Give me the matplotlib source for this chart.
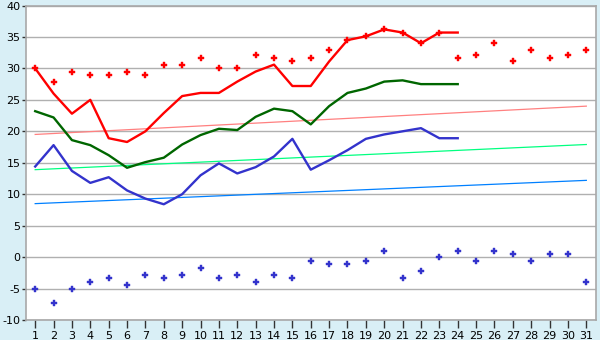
import matplotlib
matplotlib.use("Agg")
import matplotlib.pyplot as plt
import numpy as np

days = list(range(1, 32))
line_days = list(range(1, 25))

max_temp = [30.0, 26.0, 22.8, 25.0, 18.9, 18.3, 20.0, 22.9, 25.6, 26.1, 26.1, 27.9,
            29.5, 30.6, 27.2, 27.2, 31.1, 34.5, 35.1, 36.2, 35.7, 34.0, 35.7, 35.7]
mean_temp = [23.2, 22.2, 18.6, 17.8, 16.2, 14.2, 15.1, 15.8, 17.9, 19.4, 20.4, 20.2,
             22.3, 23.6, 23.2, 21.1, 24.0, 26.1, 26.8, 27.9, 28.1, 27.5, 27.5, 27.5]
min_temp = [14.4, 17.8, 13.7, 11.8, 12.7, 10.6, 9.3, 8.4, 10.0, 13.0, 14.9, 13.3,
            14.3, 16.0, 18.8, 13.9, 15.4, 17.0, 18.8, 19.5, 20.0, 20.5, 18.9, 18.9]

record_high = [30.0, 27.9, 29.5, 29.0, 29.0, 29.5, 29.0, 30.6, 30.6, 31.7, 30.0, 30.0,
               32.2, 31.7, 31.1, 31.7, 32.9, 34.5, 35.1, 36.2, 35.7, 34.0, 35.7, 31.7,
               32.2, 34.0, 31.1, 32.9, 31.7, 32.2, 32.9]
record_low = [-5.0, -7.3, -5.0, -3.9, -3.3, -4.4, -2.8, -3.3, -2.8, -1.7, -3.3, -2.8,
              -3.9, -2.8, -3.3, -0.6, -1.1, -1.1, -0.6, 1.0, -3.3, -2.2, 0.0, 1.0,
              -0.6, 1.0, 0.5, -0.6, 0.5, 0.5, -3.9]

trend_days = [1, 31]
normal_high = [19.5, 24.0]
normal_mean = [13.9, 17.9]
normal_low = [8.5, 12.2]

yticks = list(range(-10, 45, 5))

fig = plt.figure(figsize=(6, 3.4), dpi=100)
fig.patch.set_facecolor("#d9eff6")
ax = fig.add_axes([26 / 600, 1 - 320 / 340, 569.5 / 600, 314.5 / 340])
ax.set_facecolor("white")

for y in yticks:
    ax.axhline(y, color="#b0b0b0", lw=1.0, zorder=1)

ax.plot(trend_days, normal_high, color="#ff8080", lw=0.9, zorder=2)
ax.plot(trend_days, normal_mean, color="#00ff80", lw=0.9, zorder=2)
ax.plot(trend_days, normal_low, color="#0080ff", lw=0.9, zorder=2)

ax.plot(line_days, max_temp, color="#ff0000", lw=1.7, zorder=3)
ax.plot(line_days, mean_temp, color="#006600", lw=1.7, zorder=3)
ax.plot(line_days, min_temp, color="#3333cc", lw=1.7, zorder=3)

ax.plot(days, record_high, ls="none", marker="P", ms=4.6, color="#ff0000",
        mec="#ff0000", mew=0.3, zorder=4)
ax.plot(days, record_low, ls="none", marker="P", ms=4.6, color="#3333cc",
        mec="#3333cc", mew=0.3, zorder=4)

ax.set_xlim(0.5, 31.5)
ax.set_ylim(-10, 40)
ax.set_xticks(days)
ax.set_xticklabels([str(d) for d in days])
ax.set_yticks(yticks)
ax.set_yticklabels([str(v) for v in yticks])
ax.tick_params(axis="x", length=6, width=1, color="#333333", labelsize=8, pad=2)
ax.tick_params(axis="y", length=3, width=1, color="#333333", labelsize=8, pad=1)
for s in ax.spines.values():
    s.set_color("#a8a8a8")
    s.set_linewidth(1.2)

fig.savefig("out.png", dpi=100, facecolor=fig.get_facecolor())
